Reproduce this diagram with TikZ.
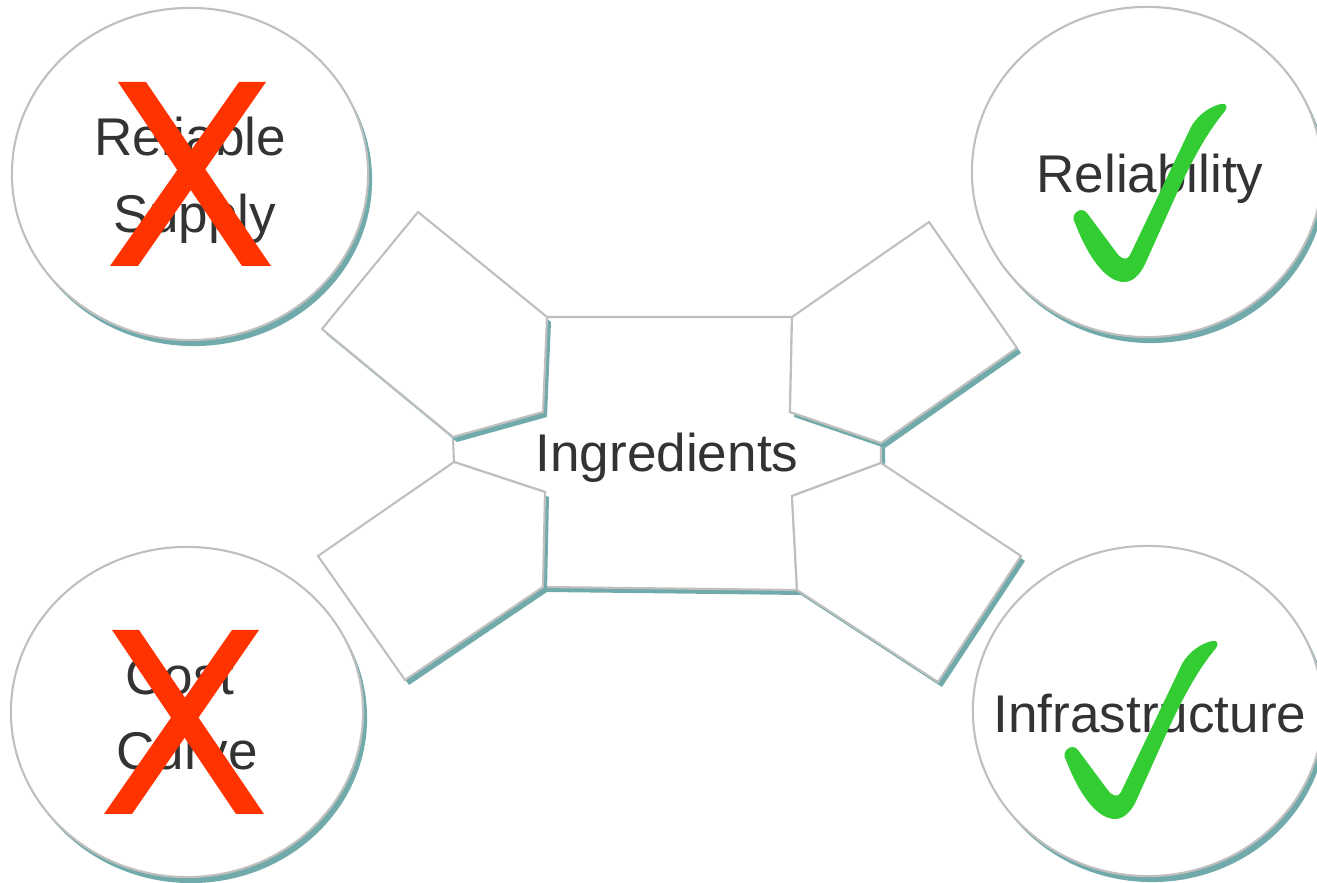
\documentclass[tikz,border=0pt]{standalone}
\usepackage{fontspec}
\setmainfont{Liberation Sans}
\usetikzlibrary{shapes.geometric}

\definecolor{edgegray}{RGB}{191,191,191}
\definecolor{shadeteal}{RGB}{112,170,170}
\definecolor{labelgray}{RGB}{51,51,51}
\definecolor{crossred}{RGB}{255,51,0}
\definecolor{tickgreen}{RGB}{51,204,51}

% outline of the green tick, drawn around the upper right bubble
\newcommand\tickmarkpath{(1087,213) -- (1116,252)
  .. controls (1120,258) and (1126,262) .. (1130,255)
  -- (1191,127) .. controls (1199,113) and (1212,106) .. (1221,104)
  .. controls (1227,103) and (1228,107) .. (1225,111)
  .. controls (1205,135) and (1190,165) .. (1177,193)
  -- (1146,262) .. controls (1140,276) and (1132,282) .. (1124,282)
  .. controls (1108,282) and (1090,262) .. (1075,223)
  .. controls (1069,215) and (1081,205) .. (1087,213) -- cycle}

% the four wings and the centre of the ingredients shape
\newcommand\wingTL{(418,212) -- (322,329) -- (453,437) -- (543,412) -- (547,317) -- cycle}
\newcommand\wingBL{(454,462) -- (545,492) -- (543,587) -- (405,680) -- (318,556) -- cycle}
\newcommand\wingTR{(792,317) -- (929,222) -- (1017,348) -- (881,443) -- (790,412) -- cycle}
\newcommand\wingBR{(881,463) -- (1021,556) -- (938,682) -- (797,590) -- (792,496) -- cycle}
\newcommand\hubshape{(547,317) -- (792,317) -- (790,412) -- (881,443) -- (881,463)
  -- (792,496) -- (797,590) -- (543,587) -- (545,492) -- (454,462) -- (453,437)
  -- (543,412) -- cycle}

\begin{document}
\begin{tikzpicture}[x=0.01cm, y=-0.01cm,
  label/.style={font=\fontsize{15.1pt}{22pt}\selectfont, text=labelgray,
    inner sep=0pt, anchor=base},
  bubble/.style={ellipse, draw=edgegray, line width=0.6pt, fill=white, inner sep=0pt},
  bubble shadow/.style={fill=shadeteal},
  piece/.style={draw=edgegray, line width=0.6pt, fill=white, line join=miter},
  piece shadow/.style={fill=shadeteal, shift={(4,5)}},
  cross/.style={fill=crossred},
  tick/.style={fill=tickgreen}]

\useasboundingbox (0,0) rectangle (1317,883);
\clip (0,0) rectangle (1317,883);

% bubble shadows
\fill[bubble shadow] (194,180) ellipse [x radius=1.78cm, y radius=1.66cm];
\fill[bubble shadow] (1151,178) ellipse [x radius=1.75cm, y radius=1.65cm];
\fill[bubble shadow] (191,718) ellipse [x radius=1.76cm, y radius=1.65cm];
\fill[bubble shadow] (1152,717) ellipse [x radius=1.75cm, y radius=1.65cm];

% bubbles
\node[bubble, minimum width=3.56cm, minimum height=3.32cm] (supply) at (190,174) {};
\node[bubble, minimum width=3.50cm, minimum height=3.30cm] (reliab) at (1147,172) {};
\node[bubble, minimum width=3.52cm, minimum height=3.30cm] (cost) at (187,712) {};
\node[bubble, minimum width=3.50cm, minimum height=3.30cm] (infra) at (1148,711) {};

% ingredients shape: the centre first, then each wing with its own shadow
\fill[piece shadow] \hubshape;
\filldraw[piece] \hubshape;
\fill[piece shadow] \wingTL;
\filldraw[piece] \wingTL;
\fill[piece shadow] \wingBL;
\filldraw[piece] \wingBL;
\fill[piece shadow] \wingTR;
\filldraw[piece] \wingTR;
\fill[piece shadow] \wingBR;
\filldraw[piece] \wingBR;

% labels
\node[label] (supply1) at (190,156) {Reliable};
\node[label] (supply2) at (195,233) {Supply};
\node[label] (reliabt) at (1150,193) {Reliability};
\node[label] (cost1) at (180,695) {Cost};
\node[label] (cost2) at (187,770) {Curve};
\node[label] (infrat) at (1150,733) {Infrastructure};
\node[label] (hubt) at (667,472) {Ingredients};

% red crosses
\fill[cross] (118,82) -- (146,82) -- (271,266) -- (242,266) -- cycle;
\fill[cross] (239,82) -- (266,82) -- (138,266) -- (110,266) -- cycle;
\fill[cross] (112,630) -- (139,630) -- (264,814) -- (236,814) -- cycle;
\fill[cross] (232,630) -- (259,630) -- (132,814) -- (104,814) -- cycle;

% green ticks
\fill[tick] \tickmarkpath;
\fill[tick, shift={(-9,537)}] \tickmarkpath;

\end{tikzpicture}
\end{document}
